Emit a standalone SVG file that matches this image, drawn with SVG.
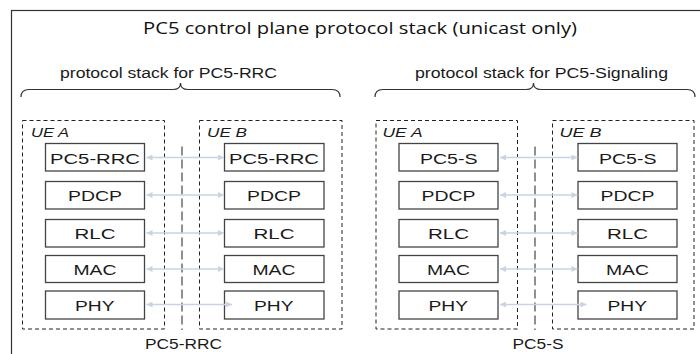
<svg xmlns="http://www.w3.org/2000/svg" width="700" height="354" viewBox="0 0 700 354">
<defs>
<style>
.frame{fill:none;stroke:#333;stroke-width:1.2}
.brace{fill:none;stroke:#333;stroke-width:1.2}
.ue{fill:none;stroke:#222;stroke-width:1;stroke-dasharray:4 3}
.box{fill:#fff;stroke:#444;stroke-width:1.3}
.mid{stroke:#555;stroke-width:1.3;stroke-dasharray:9 4}
.arr{stroke:#c9d3e1;stroke-width:1.6;fill:none;marker-start:url(#ah);marker-end:url(#ah)}
.t{font-family:"Liberation Sans",Arial,sans-serif;fill:#1a1a1a}
.bt{font-size:15px}
.ul{font-size:13px;font-style:italic}
.hd{font-size:14px}
.title{font-family:"Open Sans","Noto Sans",sans-serif;font-size:17px;fill:#111}
</style>
<marker id="ah" viewBox="0 0 10 10" refX="10" refY="5" markerWidth="7" markerHeight="6" markerUnits="userSpaceOnUse" orient="auto-start-reverse">
<path d="M0,0 L10,5 L0,10 z" fill="#c9d3e1"/>
</marker>
</defs>

<rect class="frame" x="11.5" y="10.5" width="700" height="360"/>
<text class="title" x="143" y="33.5" textLength="434" lengthAdjust="spacingAndGlyphs">PC5 control plane protocol stack (unicast only)</text>

<g id="brace-rrc">
<text class="t hd" x="60" y="78" textLength="217" lengthAdjust="spacingAndGlyphs">protocol stack for PC5-RRC</text>
<path class="brace" d="M21,97 Q21,89.5 29,89.5 L173,89.5 Q180.5,89.5 180.5,83 Q180.5,89.5 188,89.5 L332,89.5 Q340,89.5 340,97"/>
</g>
<g id="brace-sig">
<text class="t hd" x="415" y="78" textLength="253" lengthAdjust="spacingAndGlyphs">protocol stack for PC5-Signaling</text>
<path class="brace" d="M375,97 Q375,89.5 383,89.5 L526,89.5 Q533.5,89.5 533.5,83 Q533.5,89.5 541,89.5 L687,89.5 Q695,89.5 695,97"/>
</g>

<g id="ueA-rrc">
<rect class="ue" x="22.5" y="120.5" width="142" height="208.5"/>
<text class="t ul" x="31" y="136.5" textLength="38" lengthAdjust="spacingAndGlyphs">UE A</text>
</g>
<g id="ueB-rrc">
<rect class="ue" x="199.5" y="120.5" width="142.5" height="208.5"/>
<text class="t ul" x="207" y="136.5" textLength="40" lengthAdjust="spacingAndGlyphs">UE B</text>
</g>
<g id="ueA-sig">
<rect class="ue" x="376" y="120.5" width="141.5" height="208.5"/>
<text class="t ul" x="382.5" y="136.5" textLength="40" lengthAdjust="spacingAndGlyphs">UE A</text>
</g>
<g id="ueB-sig">
<rect class="ue" x="552.5" y="120.5" width="141.5" height="208.5"/>
<text class="t ul" x="559.5" y="136.5" textLength="42" lengthAdjust="spacingAndGlyphs">UE B</text>
</g>

<!-- left UE A -->
<g id="a1-rrc"><rect class="box" x="45.5" y="143.5" width="99" height="27.5"/><text class="t bt" x="50" y="163.5" textLength="90" lengthAdjust="spacingAndGlyphs">PC5-RRC</text></g>
<g id="a1-pdcp"><rect class="box" x="45.5" y="181.5" width="99" height="27.5"/><text class="t bt" x="68" y="201" textLength="54" lengthAdjust="spacingAndGlyphs">PDCP</text></g>
<g id="a1-rlc"><rect class="box" x="45.5" y="219.5" width="99" height="27.5"/><text class="t bt" x="74.5" y="239" textLength="41" lengthAdjust="spacingAndGlyphs">RLC</text></g>
<g id="a1-mac"><rect class="box" x="45.5" y="255.5" width="99" height="27"/><text class="t bt" x="73.5" y="275" textLength="43" lengthAdjust="spacingAndGlyphs">MAC</text></g>
<g id="a1-phy"><rect class="box" x="45.5" y="291" width="99" height="28"/><text class="t bt" x="75" y="311" textLength="39.5" lengthAdjust="spacingAndGlyphs">PHY</text></g>

<!-- left UE B -->
<g id="b1-rrc"><rect class="box" x="224.5" y="143.5" width="99.5" height="27.5"/><text class="t bt" x="229" y="163.5" textLength="90" lengthAdjust="spacingAndGlyphs">PC5-RRC</text></g>
<g id="b1-pdcp"><rect class="box" x="224.5" y="181.5" width="99.5" height="27.5"/><text class="t bt" x="247" y="201" textLength="54" lengthAdjust="spacingAndGlyphs">PDCP</text></g>
<g id="b1-rlc"><rect class="box" x="224.5" y="219.5" width="99.5" height="27.5"/><text class="t bt" x="253.5" y="239" textLength="41" lengthAdjust="spacingAndGlyphs">RLC</text></g>
<g id="b1-mac"><rect class="box" x="224.5" y="255.5" width="99.5" height="27"/><text class="t bt" x="252.5" y="275" textLength="43" lengthAdjust="spacingAndGlyphs">MAC</text></g>
<g id="b1-phy"><rect class="box" x="224.5" y="291" width="99.5" height="28"/><text class="t bt" x="254" y="311" textLength="39.5" lengthAdjust="spacingAndGlyphs">PHY</text></g>

<!-- right UE A -->
<g id="a2-s"><rect class="box" x="399" y="143.5" width="99" height="27.5"/><text class="t bt" x="420" y="163.5" textLength="57.5" lengthAdjust="spacingAndGlyphs">PC5-S</text></g>
<g id="a2-pdcp"><rect class="box" x="399" y="181.5" width="99" height="27.5"/><text class="t bt" x="421.5" y="201" textLength="54" lengthAdjust="spacingAndGlyphs">PDCP</text></g>
<g id="a2-rlc"><rect class="box" x="399" y="219.5" width="99" height="27.5"/><text class="t bt" x="428" y="239" textLength="41" lengthAdjust="spacingAndGlyphs">RLC</text></g>
<g id="a2-mac"><rect class="box" x="399" y="255.5" width="99" height="27"/><text class="t bt" x="427" y="275" textLength="43" lengthAdjust="spacingAndGlyphs">MAC</text></g>
<g id="a2-phy"><rect class="box" x="399" y="291" width="99" height="28"/><text class="t bt" x="428.5" y="311" textLength="39.5" lengthAdjust="spacingAndGlyphs">PHY</text></g>

<!-- right UE B -->
<g id="b2-s"><rect class="box" x="578" y="143.5" width="99" height="27.5"/><text class="t bt" x="599" y="163.5" textLength="57.5" lengthAdjust="spacingAndGlyphs">PC5-S</text></g>
<g id="b2-pdcp"><rect class="box" x="578" y="181.5" width="99" height="27.5"/><text class="t bt" x="600.5" y="201" textLength="54" lengthAdjust="spacingAndGlyphs">PDCP</text></g>
<g id="b2-rlc"><rect class="box" x="578" y="219.5" width="99" height="27.5"/><text class="t bt" x="607" y="239" textLength="41" lengthAdjust="spacingAndGlyphs">RLC</text></g>
<g id="b2-mac"><rect class="box" x="578" y="255.5" width="99" height="27"/><text class="t bt" x="606" y="275" textLength="43" lengthAdjust="spacingAndGlyphs">MAC</text></g>
<g id="b2-phy"><rect class="box" x="578" y="291" width="99" height="28"/><text class="t bt" x="607.5" y="311" textLength="39.5" lengthAdjust="spacingAndGlyphs">PHY</text></g>

<g id="connectors">
<line class="mid" x1="182" y1="146.5" x2="182" y2="330"/>
<line class="mid" x1="535" y1="146.5" x2="535" y2="330"/>
<line class="arr" x1="146.5" y1="157.5" x2="224" y2="157.5"/>
<line class="arr" x1="146.5" y1="195" x2="224" y2="195"/>
<line class="arr" x1="146.5" y1="233" x2="224" y2="233"/>
<line class="arr" x1="146.5" y1="269" x2="224" y2="269"/>
<line class="arr" x1="146.5" y1="304.5" x2="232" y2="304.5"/>
<line class="arr" x1="500" y1="157.5" x2="577.5" y2="157.5"/>
<line class="arr" x1="500" y1="195" x2="577.5" y2="195"/>
<line class="arr" x1="500" y1="233" x2="577.5" y2="233"/>
<line class="arr" x1="500" y1="269" x2="577.5" y2="269"/>
<line class="arr" x1="500" y1="304.5" x2="586.5" y2="304.5"/>
</g>

<g id="labels">
<text class="t bt" x="145" y="349" textLength="77" lengthAdjust="spacingAndGlyphs">PC5-RRC</text>
<text class="t bt" x="512.5" y="349" textLength="51" lengthAdjust="spacingAndGlyphs">PC5-S</text>
</g>
</svg>
